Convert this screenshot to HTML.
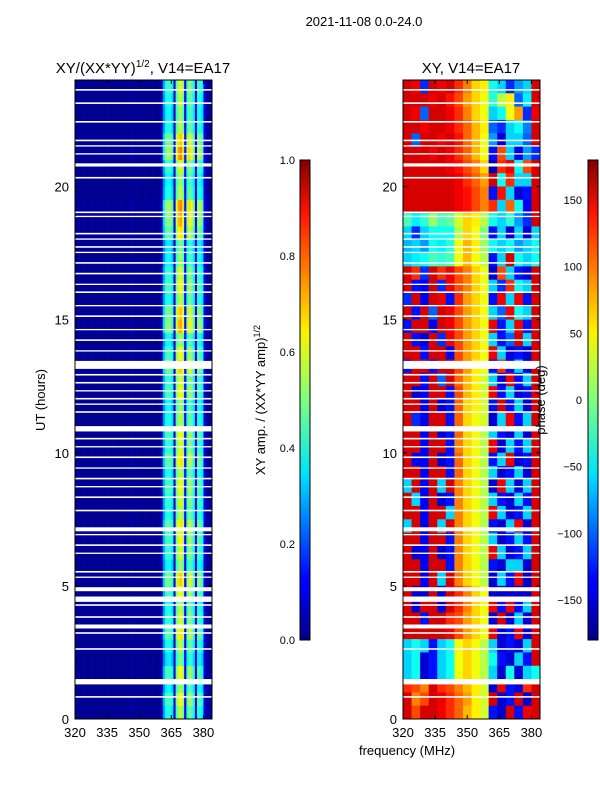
<!DOCTYPE html>
<html><head><meta charset="utf-8"><style>
html,body{margin:0;padding:0;background:#fff;}
svg text{font-family:"Liberation Sans","DejaVu Sans",sans-serif;fill:#000;}
</style></head><body>
<svg id="fig" width="600" height="800" viewBox="0 0 600 800" xmlns="http://www.w3.org/2000/svg">
<defs>
<linearGradient id="jetg" x1="0" y1="1" x2="0" y2="0">
<stop offset="0" stop-color="#000080"/><stop offset="0.11" stop-color="#0000ff"/><stop offset="0.125" stop-color="#0000ff"/>
<stop offset="0.34" stop-color="#00dbff"/><stop offset="0.35" stop-color="#00e5f8"/><stop offset="0.5" stop-color="#7fff7f"/>
<stop offset="0.64" stop-color="#f8f500"/><stop offset="0.65" stop-color="#ffea00"/><stop offset="0.89" stop-color="#ff1300"/><stop offset="1" stop-color="#800000"/>
</linearGradient>
</defs>
<text x="364" y="26" font-size="13" text-anchor="middle">2021-11-08 0.0-24.0</text>
<text x="143" y="73" font-size="15" text-anchor="middle">XY/(XX*YY)<tspan font-size="10" dy="-6">1/2</tspan><tspan dy="6">, V14=EA17</tspan></text>
<text x="471" y="73" font-size="15" text-anchor="middle">XY, V14=EA17</text>
<g id="ampPanel"></g>
<g id="phsPanel"></g>
<g id="axes"></g>
<text transform="translate(45,400) rotate(-90)" font-size="13" text-anchor="middle">UT (hours)</text>
<text transform="translate(265,400) rotate(-90)" font-size="13" text-anchor="middle">XY amp. / (XX*YY amp)<tspan font-size="9" dy="-5">1/2</tspan></text>
<text transform="translate(545,400) rotate(-90)" font-size="13" text-anchor="middle">phase (deg)</text>
<text x="407" y="755" font-size="13" text-anchor="middle">frequency (MHz)</text>
<rect x="300" y="160" width="10" height="480" fill="url(#jetg)" stroke="#000" stroke-width="1"/>
<rect x="588" y="160" width="10" height="480" fill="url(#jetg)" stroke="#000" stroke-width="1"/>
</svg>
<script>
// ---- data ----
const freqMin = 320, freqMax = 384, tMin = 0, tMax = 24;
const xTicks = [320, 335, 350, 365, 380];
const yTicks = [0, 5, 10, 15, 20];
const ampTicks = [0.0, 0.2, 0.4, 0.6, 0.8, 1.0];
const phaseTicks = [-150, -100, -50, 0, 50, 100, 150];
// amplitude spectrum profile, 1 MHz bins 320..383
const ampProfile = [0.02,0.02,0.02,0.02,0.02,0.02,0.02,0.02,0.02,0.02,0.02,0.02,0.02,0.02,0.02,0.02,
 0.02,0.02,0.02,0.02,0.02,0.02,0.02,0.02,0.02,0.02,0.04,0.02,0.02,0.02,0.02,0.02,
 0.02,0.02,0.02,0.02,0.02,0.02,0.02,0.02,0.05,0.3,0.42,0.45,0.45,0.38,0.08,0.5,
 0.6,0.62,0.55,0.12,0.45,0.55,0.5,0.42,0.1,0.45,0.45,0.4,0.1,0.04,0.03,0.03];
// per half-hour row scale (row 0 = 0-0.5h)
const ampRowScale = [0.9,1.0,0.85,1.0,0.8,0.9,1.05,0.95,0.9,1.0,1.1,0.85,0.95,1.0,1.05,0.9,
 0.95,1.0,0.9,1.05,0.95,1.0,0.9,0.85,1.0,0.95,1.1,1.0,0.85,1.15,1.1,0.9,
 1.0,0.95,0.85,0.8,1.05,1.15,1.2,0.9,0.85,0.95,1.2,1.1,0.9,0.85,0.9,0.95];
// phase grid: 16 columns of 4 MHz (320..384), rows listed top (23.5-24h) to bottom (0-0.5h)
const phaseRows = [
[150,140,-120,150,140,150,120,90,60,50,-40,-60,-120,-80,-60,150],
[150,150,150,140,150,130,110,80,60,40,-30,20,50,-100,-50,150],
[150,140,-100,150,150,140,120,90,60,40,-60,-40,40,80,-120,140],
[150,150,140,150,150,140,120,100,70,50,-100,-120,-60,-40,-90,150],
[150,-100,150,150,140,150,130,100,70,40,-80,-150,-60,-60,-100,150],
[150,150,150,140,150,140,120,100,70,40,-130,110,-60,-140,-80,-120],
[150,150,150,150,150,140,130,110,90,60,-160,120,140,-40,110,150],
[150,150,150,150,150,150,140,120,100,80,150,-40,120,-60,-60,150],
[150,150,150,150,150,150,140,130,110,90,-130,130,-60,-150,-130,150],
[150,150,150,150,150,150,140,130,110,90,120,-60,100,-40,-140,150],
[-20,-50,-30,10,-20,-10,30,60,50,20,-40,-60,-30,-80,-120,150],
[-60,-120,-60,-40,-40,-40,20,60,40,0,-130,-60,-150,-60,-150,-60],
[-70,-60,-80,-40,-50,-30,40,70,50,10,-40,-60,-40,-80,-60,-40],
[-60,-50,-40,-20,-30,-20,40,70,40,20,-130,-60,150,-40,-60,-40],
[150,120,-120,150,120,140,110,90,60,40,-150,110,-60,-130,-150,150],
[150,-130,-140,150,-120,140,110,90,60,40,-60,-120,120,-40,-60,150],
[-120,150,-140,150,140,-130,120,80,60,40,-130,140,-60,140,-130,150],
[150,-130,150,-100,150,140,110,80,60,40,-60,-100,140,-40,-60,150],
[-130,150,150,-140,150,140,110,80,60,40,140,-130,-60,140,-130,150],
[150,-130,-150,150,-120,140,110,80,60,40,-60,-130,-100,150,-60,150],
[150,150,-130,150,150,-140,110,80,60,40,140,-60,-150,-130,-150,150],
[-130,150,150,-130,150,150,110,80,50,40,-130,120,-130,-60,-150,150],
[150,150,-130,150,-100,150,100,70,50,30,-60,-150,140,-130,-60,150],
[150,-150,-140,150,150,-130,110,70,50,30,140,-130,-60,-150,-130,150],
[150,150,-140,150,-150,-130,100,60,50,30,-130,150,-130,-60,-150,150],
[150,-120,-140,150,150,-130,100,60,40,30,-150,-60,140,-130,-60,150],
[150,150,-140,150,-150,-130,100,60,40,20,-60,-130,-150,-60,-150,150],
[150,150,-140,150,150,-130,90,60,40,20,140,-150,-60,-130,-60,150],
[150,-140,-140,150,-150,-130,100,60,40,20,-130,-60,140,-150,-130,150],
[150,150,-140,150,150,-130,100,60,40,20,-60,-150,-130,-60,-150,150],
[-60,150,-140,150,-60,150,90,60,40,20,-150,140,-60,-150,-60,150],
[150,-60,-140,150,-150,-130,90,60,40,20,-60,-130,-150,-60,-130,150],
[150,150,-140,150,150,-60,90,60,40,20,140,-60,-150,-130,-60,150],
[-60,150,-140,150,-60,150,90,60,40,20,-130,-150,-60,140,-150,150],
[150,150,-140,150,150,-130,90,60,40,20,-60,-150,-130,-60,-130,150],
[150,-150,-140,150,-150,-130,90,60,40,20,140,-60,-150,-130,-60,150],
[150,150,-140,150,150,-130,90,60,40,20,-130,-150,-60,-60,-150,150],
[150,150,-140,150,-60,150,90,60,40,20,-150,-60,-130,140,-150,150],
[150,-150,-150,150,-150,150,120,90,60,40,-150,-150,-150,-150,-150,150],
[150,-150,150,150,-150,150,120,90,60,40,140,-130,140,-130,-60,150],
[150,150,-130,150,150,120,110,80,60,40,-150,150,-150,-60,-150,150],
[150,150,150,150,150,140,110,80,60,40,140,-150,-130,140,-150,150],
[-60,-40,-60,-130,-60,-40,40,60,40,20,-60,-150,-130,-150,-60,150],
[-60,-40,-150,-130,-60,-40,40,60,40,20,-40,-130,-150,-60,-130,150],
[-60,-40,-150,-130,-60,-40,40,60,40,20,-60,-150,-40,-150,-60,-40],
[120,110,90,150,120,110,90,70,50,30,-150,140,-130,-150,120,150],
[150,90,110,150,140,120,100,80,50,30,150,-150,-130,150,-150,150],
[150,110,150,150,140,120,100,70,50,30,-130,-150,150,-130,140,150]];
// flagged (white) time ranges in hours
const gapStart = [23.6,23.1,22.4,21.7,21.5,21.2,20.75,20.3,19.0,18.85,18.2,18.0,17.7,17.5,17.1,16.7,16.3,16.0,15.5,15.1,14.6,14.2,13.8,13.15,12.9,12.6,12.3,12.0,11.8,11.5,10.8,10.5,10.2,9.8,9.4,9.0,8.7,8.3,7.8,7.05,6.9,6.5,6.2,5.5,5.3,4.8,4.4,4.25,3.8,3.4,3.2,2.6,1.3,0.8];
const gapLen   = [0.06,0.06,0.06,0.06,0.05,0.05,0.12,0.06,0.06,0.05,0.06,0.05,0.06,0.05,0.06,0.06,0.05,0.06,0.05,0.06,0.05,0.06,0.05,0.3,0.06,0.06,0.05,0.06,0.05,0.06,0.2,0.06,0.05,0.06,0.05,0.06,0.05,0.06,0.06,0.15,0.05,0.06,0.05,0.06,0.05,0.15,0.2,0.06,0.06,0.15,0.06,0.06,0.2,0.06];

// ---- drawing ----
const NS = "http://www.w3.org/2000/svg";
const panels = [{x0:75,x1:212,name:'left'},{x0:403,x1:540,name:'right'}];
const yTop = 80, yBot = 719;
function xs(p, f){ return p.x0 + (f - freqMin) / (freqMax - freqMin) * (p.x1 - p.x0); }
function ys(t){ return yBot - (t - tMin) / (tMax - tMin) * (yBot - yTop); }
function jet(v){
  v = Math.max(0, Math.min(1, v));
  const r = Math.max(0, Math.min(1, 1.5 - Math.abs(4*v - 3)));
  const g = Math.max(0, Math.min(1, 1.5 - Math.abs(4*v - 2)));
  const b = Math.max(0, Math.min(1, 1.5 - Math.abs(4*v - 1)));
  return 'rgb(' + Math.round(r*255) + ',' + Math.round(g*255) + ',' + Math.round(b*255) + ')';
}
function mk(tag, attrs, parent){
  const e = document.createElementNS(NS, tag);
  for (const k in attrs) e.setAttribute(k, attrs[k]);
  parent.appendChild(e); return e;
}
const amp = document.getElementById('ampPanel');
const phs = document.getElementById('phsPanel');
const nRows = ampRowScale.length, dt = (tMax - tMin) / nRows;
for (let r = 0; r < nRows; r++) {
  for (let i = 0; i < ampProfile.length; i++) {
    const f0 = freqMin + i * (freqMax - freqMin) / ampProfile.length;
    const f1 = f0 + (freqMax - freqMin) / ampProfile.length;
    const v = ampProfile[i] * ampRowScale[r];
    const c = mk('rect', {x: xs(panels[0], f0), y: ys(tMin + (r+1)*dt), width: xs(panels[0], f1) - xs(panels[0], f0) + 0.3, height: ys(tMin + r*dt) - ys(tMin + (r+1)*dt) + 0.3, fill: jet(v)}, amp);
    
    
  }
}
const nPR = phaseRows.length, pdt = (tMax - tMin) / nPR;
for (let r = 0; r < nPR; r++) {
  const row = phaseRows[r];
  const tHi = tMax - r * pdt, tLo = tHi - pdt;
  for (let i = 0; i < row.length; i++) {
    const f0 = freqMin + i * (freqMax - freqMin) / row.length;
    const f1 = f0 + (freqMax - freqMin) / row.length;
    const c = mk('rect', {x: xs(panels[1], f0), y: ys(tHi), width: xs(panels[1], f1) - xs(panels[1], f0) + 0.3, height: ys(tLo) - ys(tHi) + 0.3, fill: jet((row[i] + 180) / 360)}, phs);
    
    
  }
}
for (let g = 0; g < gapStart.length; g++) {
  for (const p of panels) {
    const y1 = ys(gapStart[g] + gapLen[g]), y2 = ys(gapStart[g]);
    const e = mk('rect', {x: p.x0, y: y1, width: p.x1 - p.x0, height: Math.max(1.2, y2 - y1), fill: '#fff'}, p.name === 'left' ? amp : phs);
    
    
  }
}
const ax = document.getElementById('axes');
for (const p of panels) {
  const fr = mk('rect', {x: p.x0, y: yTop, width: p.x1 - p.x0, height: yBot - yTop, fill: 'none', stroke: '#000', 'stroke-width': 1}, ax);
  
  
  for (const f of xTicks) {
    const x = xs(p, f);
    mk('line', {x1: x, y1: yBot, x2: x, y2: yBot - 4, stroke: '#000'}, ax);
    mk('line', {x1: x, y1: yTop, x2: x, y2: yTop + 4, stroke: '#000'}, ax);
    const t = mk('text', {x: x, y: yBot + 18, 'font-size': 13, 'text-anchor': 'middle'}, ax);
    t.textContent = f;
    
    
  }
  for (const h of yTicks) {
    const y = ys(h);
    mk('line', {x1: p.x0, y1: y, x2: p.x0 + 4, y2: y, stroke: '#000'}, ax);
    mk('line', {x1: p.x1, y1: y, x2: p.x1 - 4, y2: y, stroke: '#000'}, ax);
    const t = mk('text', {x: p.x0 - 6, y: y + 5, 'font-size': 13, 'text-anchor': 'end'}, ax);
    t.textContent = h;
    
    
  }
}
for (const v of ampTicks) {
  const y = 640 - v * 480;
  mk('line', {x1: 300, y1: y, x2: 304, y2: y, stroke: '#000'}, ax);
  mk('line', {x1: 310, y1: y, x2: 306, y2: y, stroke: '#000'}, ax);
  const t = mk('text', {x: 295, y: y + 4, 'font-size': 11, 'text-anchor': 'end'}, ax);
  t.textContent = v.toFixed(1);
  
  
}
for (const v of phaseTicks) {
  const y = 640 - (v + 180) / 360 * 480;
  mk('line', {x1: 588, y1: y, x2: 592, y2: y, stroke: '#000'}, ax);
  mk('line', {x1: 598, y1: y, x2: 594, y2: y, stroke: '#000'}, ax);
  const t = mk('text', {x: 582, y: y + 4, 'font-size': 11, 'text-anchor': 'end'}, ax);
  t.textContent = v < 0 ? '\u2212' + Math.abs(v) : v;
  
  
}
</script>
</body></html>
